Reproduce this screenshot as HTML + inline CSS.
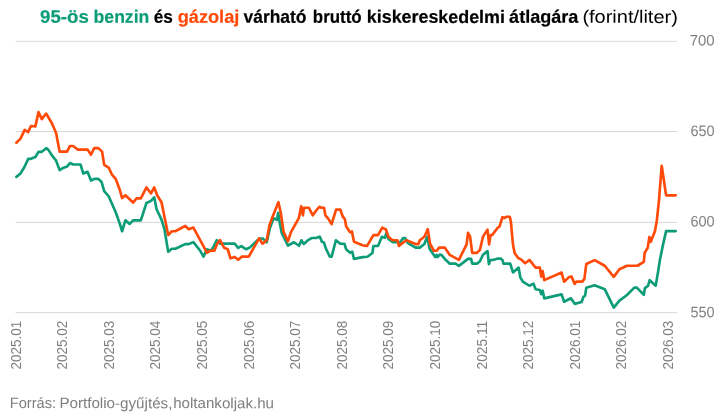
<!DOCTYPE html>
<html lang="hu">
<head>
<meta charset="utf-8">
<title>95-ös benzin és gázolaj várható bruttó kiskereskedelmi átlagára</title>
<style>
html,body{margin:0;padding:0;background:#fff;}
body{width:718px;height:415px;overflow:hidden;font-family:"Liberation Sans", sans-serif;}
svg{display:block;}
text{font-family:"Liberation Sans", sans-serif;white-space:pre;}
.t{font-size:18px;font-weight:bold;stroke-width:0.2;stroke-linejoin:round;}
.tr{font-size:18px;font-weight:normal;fill:#000;}
.yl{font-size:15.2px;fill:#808080;}
.xl{font-size:14.4px;fill:#808080;}
.ft{font-size:15px;fill:#7e7e7e;}
.ln{fill:none;stroke-width:2.65;stroke-linejoin:round;stroke-linecap:round;}
</style>
</head>
<body>
<svg width="718" height="415" viewBox="0 0 718 415">
<rect x="0" y="0" width="718" height="415" fill="#ffffff"/>

<g id="title">
<text class="t" transform="translate(40.10 22.70) rotate(0.15)" fill="#0c9c78" stroke="#0c9c78" textLength="48.70" lengthAdjust="spacingAndGlyphs">95-ös</text>
<text class="t" transform="translate(93.62 22.70) rotate(0.15)" fill="#0c9c78" stroke="#0c9c78" textLength="55.66" lengthAdjust="spacingAndGlyphs">benzin</text>
<text class="t" transform="translate(153.80 22.70) rotate(0.15)" fill="#000" stroke="#000" textLength="19.11" lengthAdjust="spacingAndGlyphs">és</text>
<text class="t" transform="translate(177.70 22.70) rotate(0.15)" fill="#ff4a08" stroke="#ff4a08" textLength="61.60" lengthAdjust="spacingAndGlyphs">gázolaj</text>
<text class="t" transform="translate(243.50 22.70) rotate(0.15)" fill="#000" stroke="#000" textLength="63.00" lengthAdjust="spacingAndGlyphs">várható</text>
<text class="t" transform="translate(312.87 22.70) rotate(0.15)" fill="#000" stroke="#000" textLength="48.82" lengthAdjust="spacingAndGlyphs">bruttó</text>
<text class="t" transform="translate(366.81 22.70) rotate(0.15)" fill="#000" stroke="#000" textLength="138.08" lengthAdjust="spacingAndGlyphs">kiskereskedelmi</text>
<text class="t" transform="translate(509.10 22.70) rotate(0.15)" fill="#000" stroke="#000" textLength="69.24" lengthAdjust="spacingAndGlyphs">átlagára</text>
<text class="tr" transform="translate(582.40 22.70) rotate(0.15)" fill="#000" textLength="95.40" lengthAdjust="spacingAndGlyphs">(forint/liter)</text>
</g>
<g id="grid">
<rect x="15.5" y="40.85" width="661.5" height="1" fill="#d9d9d9"/>
<rect x="15.5" y="131.00" width="661.5" height="1" fill="#d9d9d9"/>
<rect x="15.5" y="221.90" width="661.5" height="1" fill="#d9d9d9"/>
<rect x="15.5" y="312.10" width="661.5" height="1" fill="#d9d9d9"/>
</g>
<g id="ylabels">
<text class="yl" transform="translate(689.70 45.40) rotate(0.15)" textLength="24.90" lengthAdjust="spacingAndGlyphs">700</text>
<text class="yl" transform="translate(690.45 136.00) rotate(0.15)" textLength="24.15" lengthAdjust="spacingAndGlyphs">650</text>
<text class="yl" transform="translate(690.45 226.40) rotate(0.15)" textLength="24.15" lengthAdjust="spacingAndGlyphs">600</text>
<text class="yl" transform="translate(690.50 317.30) rotate(0.15)" textLength="24.10" lengthAdjust="spacingAndGlyphs">550</text>
</g>
<g id="xlabels">
<text class="xl" transform="translate(20.60 369.40) rotate(-90)" textLength="48.60" lengthAdjust="spacingAndGlyphs">2025.01</text>
<text class="xl" transform="translate(67.20 369.40) rotate(-90)" textLength="48.60" lengthAdjust="spacingAndGlyphs">2025.02</text>
<text class="xl" transform="translate(113.80 369.40) rotate(-90)" textLength="48.60" lengthAdjust="spacingAndGlyphs">2025.03</text>
<text class="xl" transform="translate(160.40 369.40) rotate(-90)" textLength="48.60" lengthAdjust="spacingAndGlyphs">2025.04</text>
<text class="xl" transform="translate(207.00 369.40) rotate(-90)" textLength="48.60" lengthAdjust="spacingAndGlyphs">2025.05</text>
<text class="xl" transform="translate(253.60 369.40) rotate(-90)" textLength="48.60" lengthAdjust="spacingAndGlyphs">2025.06</text>
<text class="xl" transform="translate(300.20 369.40) rotate(-90)" textLength="48.60" lengthAdjust="spacingAndGlyphs">2025.07</text>
<text class="xl" transform="translate(346.80 369.40) rotate(-90)" textLength="48.60" lengthAdjust="spacingAndGlyphs">2025.08</text>
<text class="xl" transform="translate(393.40 369.40) rotate(-90)" textLength="48.60" lengthAdjust="spacingAndGlyphs">2025.09</text>
<text class="xl" transform="translate(440.00 369.40) rotate(-90)" textLength="48.60" lengthAdjust="spacingAndGlyphs">2025.10</text>
<text class="xl" transform="translate(486.60 369.40) rotate(-90)" textLength="48.60" lengthAdjust="spacingAndGlyphs">2025.11</text>
<text class="xl" transform="translate(533.20 369.40) rotate(-90)" textLength="48.60" lengthAdjust="spacingAndGlyphs">2025.12</text>
<text class="xl" transform="translate(579.80 369.40) rotate(-90)" textLength="48.60" lengthAdjust="spacingAndGlyphs">2026.01</text>
<text class="xl" transform="translate(626.40 369.40) rotate(-90)" textLength="48.60" lengthAdjust="spacingAndGlyphs">2026.02</text>
<text class="xl" transform="translate(673.00 369.40) rotate(-90)" textLength="48.60" lengthAdjust="spacingAndGlyphs">2026.03</text>
</g>
<path class="ln" stroke="#0c9c78" d="M16.4 176.85 L20.5 173.55 L24.7 166.55 L28.2 158.85 L30.9 158.85 L35.4 157.05 L38.5 151.85 L41.8 151.85 L46.2 148.15 L48.4 149.85 L51.9 155.35 L56.1 160.65 L59.6 170.05 L63.1 167.95 L67.0 166.55 L70.0 163.05 L73.1 164.45 L80.5 164.45 L83.3 173.55 L87.5 171.75 L91.0 180.55 L94.2 178.85 L98.3 178.85 L101.6 182.05 L104.2 191.05 L108.7 196.25 L115.6 212.05 L119.6 223.15 L122.1 231.25 L125.4 220.35 L129.7 223.85 L133.1 220.35 L140.8 220.35 L146.5 202.95 L151.0 200.85 L154.2 197.35 L156.6 209.25 L161.5 219.65 L164.5 229.45 L168.2 251.85 L171.9 248.75 L175.4 248.75 L185.2 244.15 L188.7 244.15 L193.4 242.15 L200.0 250.45 L203.5 256.65 L206.8 249.25 L210.7 250.65 L213.7 246.45 L216.8 240.15 L220.0 243.65 L234.7 243.65 L238.2 247.85 L241.4 246.05 L245.9 249.25 L249.4 247.85 L259.1 238.65 L263.0 238.65 L266.7 242.25 L270.0 227.75 L273.5 218.25 L277.0 219.85 L278.2 212.85 L279.8 223.25 L281.8 233.25 L288.0 245.55 L293.8 242.25 L299.1 245.75 L301.4 240.25 L303.8 243.95 L308.2 240.05 L312.0 237.95 L315.8 237.95 L319.7 236.65 L322.0 241.85 L323.9 242.55 L326.0 248.75 L329.8 256.75 L331.6 256.75 L335.9 240.25 L340.3 243.75 L344.4 243.75 L346.1 249.15 L350.1 252.65 L352.2 251.55 L354.0 258.85 L362.6 257.15 L367.5 256.75 L372.4 252.95 L373.4 245.95 L378.0 245.95 L381.9 236.85 L384.9 237.85 L386.2 233.25 L388.4 238.85 L392.6 242.05 L397.5 242.05 L399.6 243.05 L403.0 238.15 L405.1 238.15 L407.9 243.05 L415.6 247.65 L419.8 247.65 L424.4 244.05 L427.2 236.75 L429.6 248.65 L435.2 257.05 L436.6 254.95 L437.5 257.05 L439.8 254.65 L441.5 254.95 L445.6 259.85 L449.8 263.65 L455.4 263.65 L458.9 265.85 L468.0 258.85 L471.1 258.85 L472.3 263.65 L476.9 263.65 L479.8 261.55 L483.0 254.75 L487.5 251.15 L488.9 264.15 L490.3 259.95 L493.0 259.95 L497.9 258.55 L500.7 258.55 L502.4 259.95 L503.5 263.65 L510.2 263.65 L513.0 272.45 L518.6 267.55 L520.3 277.35 L522.8 281.55 L529.4 285.75 L533.5 283.65 L535.6 289.25 L539.8 289.95 L541.2 294.15 L542.6 290.65 L544.3 298.35 L561.6 294.35 L564.1 301.75 L570.9 298.25 L574.7 303.85 L581.6 302.05 L583.5 296.75 L585.1 295.75 L586.3 287.65 L594.6 285.25 L604.7 289.15 L613.8 307.65 L619.4 300.65 L627.0 295.05 L634.3 287.65 L636.8 287.65 L643.8 294.75 L644.9 288.05 L648.0 285.95 L649.7 280.15 L655.7 285.65 L657.8 273.45 L660.0 259.45 L662.8 245.75 L666.1 231.10 L675.7 231.10"/>
<path class="ln" stroke="#ff4a08" d="M16.4 142.75 L20.5 138.65 L24.7 129.95 L28.2 132.05 L30.9 126.05 L35.4 126.35 L38.5 112.15 L41.8 119.15 L46.2 113.55 L51.9 123.25 L56.1 133.05 L59.6 151.65 L67.0 151.65 L70.0 145.95 L73.1 145.95 L77.7 149.55 L87.5 149.55 L91.0 154.75 L94.2 148.15 L98.3 148.15 L102.1 151.65 L104.2 164.85 L108.7 167.55 L111.9 174.55 L115.6 178.75 L119.6 189.25 L122.1 198.05 L125.4 195.25 L133.1 202.55 L136.6 198.35 L140.8 198.35 L146.5 187.45 L151.0 193.45 L154.2 187.45 L157.3 195.55 L161.5 202.25 L168.2 235.05 L171.9 231.25 L175.4 231.25 L185.2 225.95 L188.7 229.15 L193.4 227.55 L200.3 240.35 L204.0 247.15 L206.8 252.75 L210.7 250.65 L214.4 250.65 L217.2 243.65 L220.0 240.15 L224.2 247.85 L227.7 249.25 L230.5 258.35 L234.7 256.95 L238.2 259.75 L241.7 256.65 L248.7 256.65 L259.1 238.45 L262.6 243.65 L266.7 240.25 L269.4 225.45 L272.5 216.95 L278.4 202.15 L280.7 212.55 L283.5 231.45 L287.9 241.25 L291.0 232.15 L298.8 218.15 L301.2 206.35 L302.9 215.35 L304.0 207.75 L308.9 207.75 L312.8 215.35 L315.9 210.95 L319.4 206.75 L321.5 207.75 L324.0 207.75 L325.4 215.35 L328.4 218.85 L331.6 224.05 L336.1 209.55 L340.3 209.55 L342.8 216.75 L344.8 218.85 L346.2 226.55 L350.1 232.15 L351.9 231.45 L354.0 241.85 L362.6 245.25 L367.1 245.95 L373.4 235.05 L378.0 235.05 L382.2 227.65 L386.0 229.55 L388.3 236.75 L392.6 240.25 L397.5 240.25 L398.9 245.85 L403.0 242.65 L406.5 240.25 L415.6 244.05 L418.4 244.05 L419.8 240.25 L424.4 236.75 L427.8 229.15 L430.0 243.75 L433.8 250.75 L436.6 250.75 L439.1 247.65 L444.9 247.65 L449.8 254.95 L458.9 259.85 L466.6 244.45 L468.0 232.85 L470.1 236.75 L472.2 252.85 L476.9 252.85 L479.9 250.05 L483.0 236.65 L487.5 229.65 L489.1 244.35 L490.5 235.25 L492.3 234.85 L497.9 227.55 L499.6 226.45 L502.4 217.15 L504.2 218.05 L506.6 216.75 L509.8 216.75 L510.9 222.05 L513.0 244.75 L514.7 253.25 L518.2 258.05 L521.0 259.35 L525.2 263.25 L529.4 259.95 L535.6 267.55 L539.8 267.55 L541.2 276.65 L542.6 271.05 L544.3 280.15 L561.6 272.55 L564.1 281.75 L568.7 277.35 L571.5 276.45 L574.7 283.85 L576.5 281.55 L582.3 281.55 L584.4 278.95 L586.3 263.95 L594.6 260.15 L604.7 265.75 L613.8 276.85 L619.4 269.25 L627.0 265.75 L637.5 265.75 L643.8 261.95 L644.7 252.75 L647.7 247.85 L649.4 237.05 L650.8 241.85 L655.0 231.05 L656.8 220.65 L658.9 201.35 L661.7 165.75 L666.1 195.30 L675.7 195.30"/>
<g id="source">
<text class="ft" transform="translate(9.70 408.00) rotate(0.15)" textLength="46.47" lengthAdjust="spacingAndGlyphs">Forrás:</text>
<text class="ft" transform="translate(59.38 408.00) rotate(0.15)" textLength="113.00" lengthAdjust="spacingAndGlyphs">Portfolio-gyűjtés,</text>
<text class="ft" transform="translate(173.19 408.00) rotate(0.15)" textLength="100.75" lengthAdjust="spacingAndGlyphs">holtankoljak.hu</text>
</g>
</svg>
</body>
</html>
